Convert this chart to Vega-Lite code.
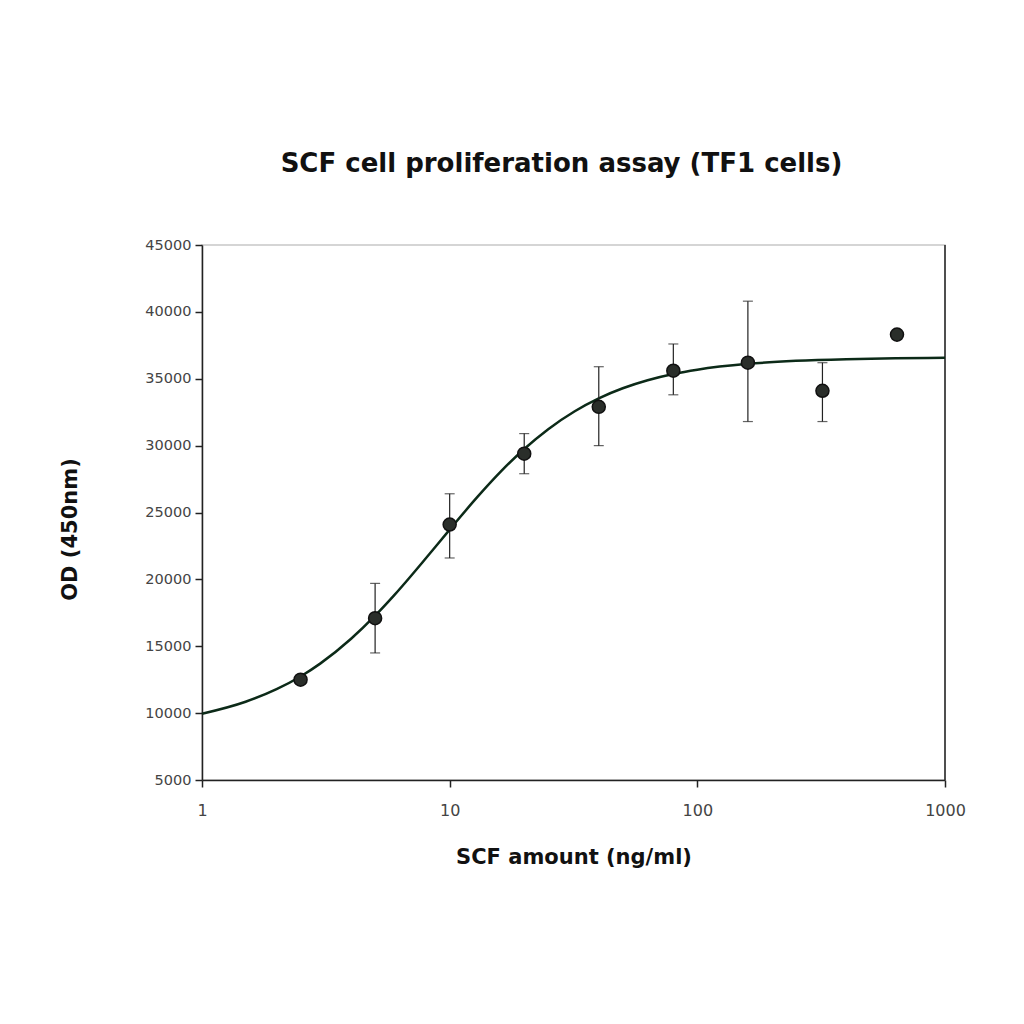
{
  "$schema": "https://vega.github.io/schema/vega-lite/v6.json",
  "width": 743,
  "height": 535,
  "autosize": "none",
  "padding": {"left": 202, "top": 245, "right": 79, "bottom": 244},
  "background": "white",
  "title": {
    "text": "SCF cell proliferation assay (TF1 cells)",
    "font": "DejaVu Sans",
    "fontSize": 26,
    "fontWeight": "bold",
    "color": "#111111",
    "offset": 60,
    "dx": -12
  },
  "config": {
    "view": {"stroke": "#c8c8c8", "strokeWidth": 1.5},
    "axis": {
      "labelFont": "DejaVu Sans",
      "titleFont": "DejaVu Sans",
      "labelFontSize": 14,
      "titleFontSize": 21,
      "titleFontWeight": "bold",
      "labelColor": "#444444",
      "titleColor": "#111111",
      "domainColor": "#222222",
      "domainWidth": 1.5,
      "tickColor": "#222222",
      "tickWidth": 1.5,
      "tickSize": 7,
      "grid": false
    }
  },
  "datasets": {
    "points": [
      {"dose": 2.5, "od": 12500, "lo": 12500, "hi": 12500},
      {"dose": 5, "od": 17100, "lo": 14500, "hi": 19700},
      {"dose": 10, "od": 24100, "lo": 21600, "hi": 26400},
      {"dose": 20, "od": 29400, "lo": 27900, "hi": 30900},
      {"dose": 40, "od": 32900, "lo": 30000, "hi": 35900},
      {"dose": 80, "od": 35600, "lo": 33800, "hi": 37600},
      {"dose": 160, "od": 36200, "lo": 31800, "hi": 40800},
      {"dose": 320, "od": 34100, "lo": 31800, "hi": 36200},
      {"dose": 640, "od": 38300, "lo": 38300, "hi": 38300}
    ],
    "curve": [
      {"dose": 1, "od": 9950},
      {"dose": 1.5, "od": 10850},
      {"dose": 2, "od": 11790},
      {"dose": 2.5, "od": 12740},
      {"dose": 3, "od": 13700},
      {"dose": 4, "od": 15560},
      {"dose": 5, "od": 17282},
      {"dose": 6, "od": 18857},
      {"dose": 8, "od": 21557},
      {"dose": 10, "od": 23723},
      {"dose": 13, "od": 26201},
      {"dose": 16, "od": 28014},
      {"dose": 20, "od": 29749},
      {"dose": 25, "od": 31233},
      {"dose": 32, "od": 32574},
      {"dose": 40, "od": 33536},
      {"dose": 50, "od": 34289},
      {"dose": 63, "od": 34888},
      {"dose": 80, "od": 35353},
      {"dose": 100, "od": 35677},
      {"dose": 160, "od": 36114},
      {"dose": 250, "od": 36338},
      {"dose": 400, "od": 36464},
      {"dose": 630, "od": 36528},
      {"dose": 1000, "od": 36562}
    ],
    "frame": [
      {"dose": 1000, "lo": 5000, "hi": 45000}
    ]
  },
  "layer": [
    {
      "data": {"name": "frame"},
      "mark": {"type": "rule", "color": "#222222", "strokeWidth": 1.5},
      "encoding": {
        "x": {"field": "dose", "type": "quantitative", "scale": {"type": "log", "domain": [1, 1000]}},
        "y": {"field": "lo", "type": "quantitative"},
        "y2": {"field": "hi"}
      }
    },
    {
      "data": {"name": "curve"},
      "mark": {"type": "line", "color": "#0c2a18", "strokeWidth": 2.5, "interpolate": "monotone"},
      "encoding": {
        "x": {"field": "dose", "type": "quantitative"},
        "y": {"field": "od", "type": "quantitative"}
      }
    },
    {
      "data": {"name": "points"},
      "mark": {"type": "rule", "color": "#222222", "strokeWidth": 1.2},
      "encoding": {
        "x": {"field": "dose", "type": "quantitative"},
        "y": {"field": "lo", "type": "quantitative"},
        "y2": {"field": "hi"}
      }
    },
    {
      "data": {"name": "points"},
      "mark": {"type": "tick", "color": "#222222", "thickness": 1.2, "size": 10, "orient": "horizontal"},
      "encoding": {
        "x": {"field": "dose", "type": "quantitative"},
        "y": {"field": "lo", "type": "quantitative"}
      }
    },
    {
      "data": {"name": "points"},
      "mark": {"type": "tick", "color": "#222222", "thickness": 1.2, "size": 10, "orient": "horizontal"},
      "encoding": {
        "x": {"field": "dose", "type": "quantitative"},
        "y": {"field": "hi", "type": "quantitative"}
      }
    },
    {
      "data": {"name": "points"},
      "mark": {"type": "point", "shape": "circle", "filled": true, "color": "#2a2e2a", "stroke": "#111111", "strokeWidth": 1.5, "size": 170, "opacity": 1},
      "encoding": {
        "x": {
          "field": "dose", "type": "quantitative",
          "scale": {"type": "log", "domain": [1, 1000]},
          "axis": {"title": "SCF amount (ng/ml)", "values": [1, 10, 100, 1000], "format": "d", "labelFontSize": 16, "labelFlush": false, "titlePadding": 28, "labelPadding": 15}
        },
        "y": {
          "field": "od", "type": "quantitative",
          "scale": {"domain": [5000, 45000], "nice": false, "zero": false},
          "axis": {"title": "OD (450nm)", "values": [5000, 10000, 15000, 20000, 25000, 30000, 35000, 40000, 45000], "format": "d", "labelFontSize": 14.5, "titlePadding": 64, "labelPadding": 4, "titleY": 284}
        }
      }
    }
  ]
}
